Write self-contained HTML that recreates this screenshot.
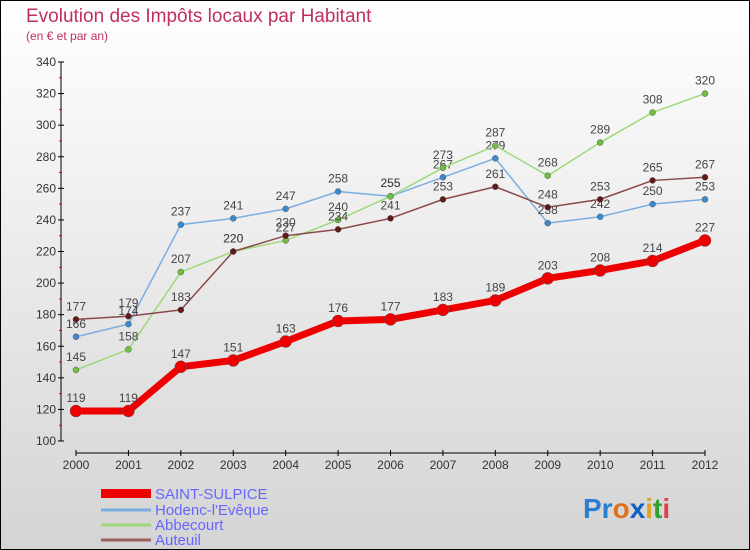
<!DOCTYPE html>
<html><head><meta charset="utf-8"><style>
body{margin:0}
#c{width:748px;height:548px;border:1px solid #000;background:linear-gradient(#fff,#d4d4d4);position:relative;font-family:"Liberation Sans",sans-serif;overflow:hidden}
</style></head><body>
<div id="c">
<svg width="748" height="548" id="s">
<text x="25" y="21" font-size="19" fill="#c0305a">Evolution des Impôts locaux par Habitant</text>
<text x="25" y="39" font-size="12" fill="#c0305a">(en € et par an)</text>
<g id="g"></g>
<g>
<rect x="100" y="488" width="50" height="9" fill="#e00"/>
<text x="154" y="498" font-size="15" fill="#6666ff">SAINT-SULPICE</text>
<line x1="100" x2="150" y1="509" y2="509" stroke="#7aaee0" stroke-width="3"/>
<text x="154" y="514" font-size="15" fill="#6666ff">Hodenc-l'Evêque</text>
<line x1="100" x2="150" y1="524" y2="524" stroke="#9ed87a" stroke-width="3"/>
<text x="154" y="529" font-size="15" fill="#6666ff">Abbecourt</text>
<line x1="100" x2="150" y1="539" y2="539" stroke="#9a6060" stroke-width="3"/>
<text x="154" y="544" font-size="15" fill="#6666ff">Auteuil</text>
</g>
<text x="582" y="517" font-size="28" font-weight="bold"><tspan fill="#2a7fd0">Pr</tspan><tspan fill="#e07020">o</tspan><tspan fill="#1060c0">x</tspan><tspan fill="#e0a020">i</tspan><tspan fill="#30a030">t</tspan><tspan fill="#e04040">i</tspan></text>
</svg></div>
<script>
const years=[2000,2001,2002,2003,2004,2005,2006,2007,2008,2009,2010,2011,2012];
const yTicks=[100,120,140,160,180,200,220,240,260,280,300,320,340];
const saint=[119,119,147,151,163,176,177,183,189,203,208,214,227];
const hodenc=[166,174,237,241,247,258,255,267,279,238,242,250,253];
const abbe=[145,158,207,220,227,240,255,273,287,268,289,308,320];
const auteuil=[177,179,183,220,230,234,241,253,261,248,253,265,267];
const NS='http://www.w3.org/2000/svg',g=document.getElementById('g');
const X=i=>75+i*(704-75)/(years.length-1);
const Y=v=>440-(v-100)*(440-61)/240;
function mk(t,a,p){const e=document.createElementNS(NS,t);for(const k in a)e.setAttribute(k,a[k]);(p||g).appendChild(e);return e;}
let ax=mk('line',{x1:60,x2:60,y1:61,y2:440,stroke:'#000'});

yTicks.forEach((v,i)=>{mk('line',{x1:57,x2:63,y1:Y(v),y2:Y(v),stroke:'#000'});
 if(i<yTicks.length-1)mk('line',{x1:58,x2:61,y1:Y(v+10),y2:Y(v+10),stroke:'#e00'});
 const t=mk('text',{x:55,y:Y(v)+4,'font-size':12,fill:'#333','text-anchor':'end'});t.textContent=v;
 });
let xa=mk('line',{x1:75,x2:704,y1:452,y2:452,stroke:'#000'});

years.forEach((y,i)=>{mk('line',{x1:X(i),x2:X(i),y1:449,y2:455,stroke:'#000'});
 const t=mk('text',{x:X(i),y:468,'font-size':12,fill:'#333','text-anchor':'middle'});t.textContent=y;
 });
function series(d,col,dot,w,r,name){
 const sg=mk('g',{});
 mk('polyline',{points:d.map((v,i)=>X(i)+','+Y(v)).join(' '),fill:'none',stroke:col,'stroke-width':w,'stroke-linejoin':'round'},sg);
 d.forEach((v,i)=>{const c=mk('circle',{cx:X(i),cy:Y(v),r:r,fill:dot,stroke:'#555','stroke-width':0.5},sg);
  
  const t=mk('text',{x:X(i),y:Y(v)-9,'font-size':12,fill:'#444','text-anchor':'middle'},sg);t.textContent=v;
  });
}
series(hodenc,'#7aaee0','#3a8ad0',1.5,3,'hodenc');
series(abbe,'#9ed87a','#70c040',1.5,3,'abbecourt');
series(auteuil,'#8a4a4a','#601818',1.5,3,'auteuil');
series(saint,'#ee0000','#ee0000',7,6,'saint-sulpice');
</script>
</body></html>
